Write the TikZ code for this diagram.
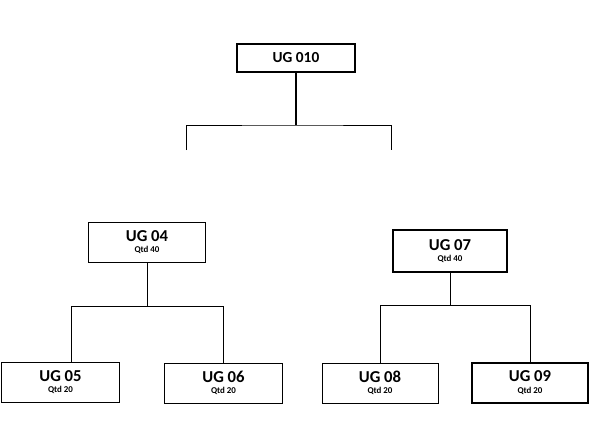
\documentclass[tikz,border=0pt]{standalone}
\usepackage{fontspec}
\setmainfont{Carlito}
\usetikzlibrary{positioning}

\begin{document}
\begin{tikzpicture}[x=0.75pt, y=-0.75pt, line width=0.75pt,
  box/.style={draw, align=center, inner sep=0pt, minimum width=88pt, minimum height=30pt,
    font=\fontsize{12.5}{14}\selectfont\bfseries},
  heavy/.style={line width=1.5pt}]
  \useasboundingbox (0,0) rectangle (592,444);

  \node[box, heavy, minimum height=21pt, font=\fontsize{11.5}{14}\selectfont\bfseries] (ug010) at (296,58) {UG 010};

  \node[box] (ug04) at (147,242) {UG 04\\[-5.5pt]{\fontsize{6.7}{7}\selectfont Qtd 40}};
  \node[box, heavy, minimum width=85pt, minimum height=31pt] (ug07) at (450,251) {UG 07\\[-5.5pt]{\fontsize{6.7}{7}\selectfont Qtd 40}};

  \node[box] (ug05) at (60.5,382) {UG 05\\[-5.5pt]{\fontsize{6.7}{7}\selectfont Qtd 20}};
  \node[box, minimum width=89pt] (ug06) at (223.5,383) {UG 06\\[-5.5pt]{\fontsize{6.7}{7}\selectfont Qtd 20}};
  \node[box, minimum width=87pt] (ug08) at (380,383) {UG 08\\[-5.5pt]{\fontsize{6.7}{7}\selectfont Qtd 20}};
  \node[box, heavy, minimum width=87pt] (ug09) at (530,382.5) {UG 09\\[-5.5pt]{\fontsize{6.7}{7}\selectfont Qtd 20}};

  % junctions and open ends
  \coordinate (j0) at (296,125);
  \coordinate (t1) at (186,150);
  \coordinate (t2) at (391,150);
  \coordinate (j1) at (147,306);
  \coordinate (j2) at (450,305);

  \draw[heavy] (ug010) -- (j0);
  \draw (t1) |- (j0) -| (t2);

  \draw (ug04) -- (j1);
  \draw ([xshift=8.6pt]ug05.north) |- (j1) -| (ug06.north);

  \draw (ug07) -- (j2);
  \draw (ug08.north) |- (j2) -| (ug09.north);
\end{tikzpicture}
\end{document}
